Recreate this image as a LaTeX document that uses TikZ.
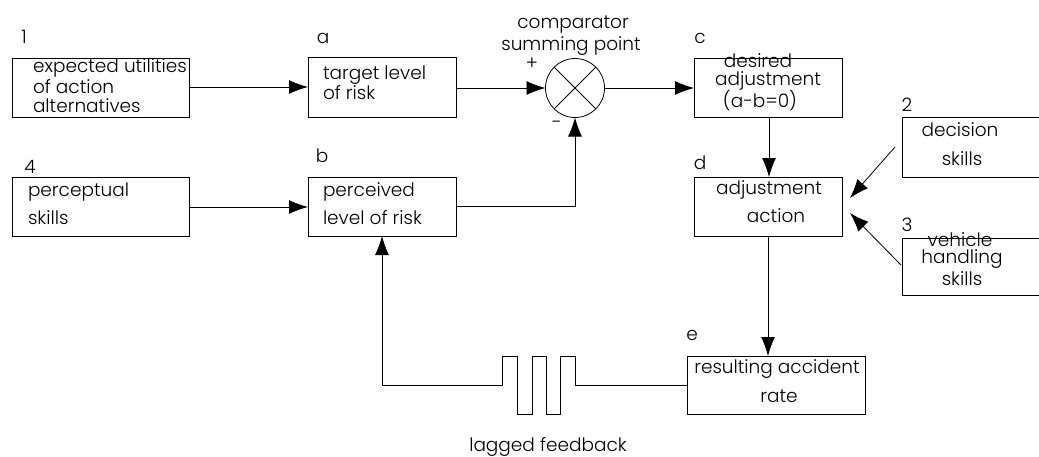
\documentclass[tikz,border=0pt]{standalone}
\usepackage{fontspec}
\setmainfont{Poppins}[UprightFont={* Light}]
\usetikzlibrary{arrows.meta}
\begin{document}
\begin{tikzpicture}[x=1pt,y=-1pt,
  every node/.style={font=\fontsize{18.5}{22}\selectfont, inner sep=0pt, outer sep=0pt},
  box/.style={draw, line width=0.8pt, anchor=north west},
  ln/.style={line width=0.8pt},
  arr/.style={line width=0.8pt, -{Latex[length=19pt,width=14pt]}},
  tl/.style={anchor=mid west},
  tc/.style={anchor=mid},
  lab/.style={anchor=base}]
\useasboundingbox (0,0) rectangle (1039,456);
% boxes
\node[box, minimum width=177pt, minimum height=59pt] (b1) at (12,58) {};
\node[box, minimum width=148pt, minimum height=60pt] (ba) at (308,57) {};
\node[box, minimum width=177pt, minimum height=59pt] (b4) at (12,177) {};
\node[box, minimum width=148pt, minimum height=59pt] (bb) at (308,177) {};
\node[box, minimum width=148pt, minimum height=59pt] (bc) at (694,58) {};
\node[box, minimum width=148pt, minimum height=59pt] (bd) at (694,177) {};
\node[box, minimum width=142pt, minimum height=60pt] (b2) at (902,117) {};
\node[box, minimum width=142pt, minimum height=57pt] (b3) at (902,238) {};
\node[box, minimum width=178pt, minimum height=58pt] (be) at (687,356) {};
\node[draw, line width=0.8pt, circle, minimum size=59pt] (cmp) at (575,88) {};
\draw[ln] (cmp.north west) -- (cmp.south east);
\draw[ln] (cmp.north east) -- (cmp.south west);
% texts
\node[tl] (t1a) at (33,70) {expected utilities};
\node[tl] (t1b) at (33,91) {of action};
\node[tl] (t1c) at (33,110) {alternatives};
\node[tl] (taa) at (323,77) {target level};
\node[tl] (tab) at (323,97) {of risk};
\node[tl] (t4a) at (28,194) {perceptual};
\node[tl] (t4b) at (28,222) {skills};
\node[tl] (tba) at (323,194) {perceived};
\node[tl] (tbb) at (323,222) {level of risk};
\node[tc] (tca) at (758,65) {desired};
\node[tc] (tcb) at (768,83) {adjustment};
\node[tc] (tcc) at (760,105) {(a-b=0)};
\node[tc] (tda) at (769,192) {adjustment};
\node[tc] (tdb) at (776,220) {action};
\node[tc] (t2a) at (960,134) {decision};
\node[tc] (t2b) at (962,163) {skills};
\node[tc] (t3a) at (960,244) {vehicle};
\node[tc] (t3b) at (962,261) {handling};
\node[tc] (t3c) at (962,283) {skills};
\node[tc] (tea) at (777,371) {resulting accident};
\node[tc] (teb) at (779,400) {rate};
% labels
\node[lab] (l1) at (24,43) {1};
\node[lab] (la) at (323,43) {a};
\node[lab] (lb) at (322,162) {b};
\node[lab] (l4) at (30,173) {4};
\node[lab] (lc) at (700,43) {c};
\node[lab] (ld) at (700,169) {d};
\node[lab] (l2) at (907,111) {2};
\node[lab] (l3) at (907,231) {3};
\node[lab] (le) at (692,340) {e};
\node[tc] (lplus) at (532,67) {+};
\node[tc] (lminus) at (557,126) {-};
\node[lab] (lcomp) at (573,28) {comparator};
\node[lab] (lsum) at (571,50) {summing point};
\node[lab] (llag) at (548,451) {lagged feedback};
% coordinates
\coordinate (s2) at (895,147);
\coordinate (e2) at (850,198);
\coordinate (s3) at (901,265);
\coordinate (e3) at (850,213);
% connectors
\draw[arr] (b1.east |- ba.west) -- (ba.west);
\draw[arr] (ba.east |- cmp.west) -- (cmp.west);
\draw[arr] (cmp.east) -- (cmp.east -| bc.west);
\draw[arr] (b4.east |- 0,207) -- (bb.west |- 0,207);
\draw[arr] (bb.east |- 0,206) -| (cmp.south);
\draw[arr] (769,117) -- (769,177);
\draw[arr] (s2) -- (e2);
\draw[arr] (s3) -- (e3);
\draw[arr] (768,236) -- (768,356);
\draw[arr] (be.west |- 0,385) -- (575,385) -- (575,356) -- (560,356) -- (560,414) -- (546,414) -- (546,356) -- (532,356) -- (532,414) -- (517,414) -- (517,356) -- (502,356) -- (502,385) -- (382,385) -- (382,236);
\end{tikzpicture}
\end{document}
